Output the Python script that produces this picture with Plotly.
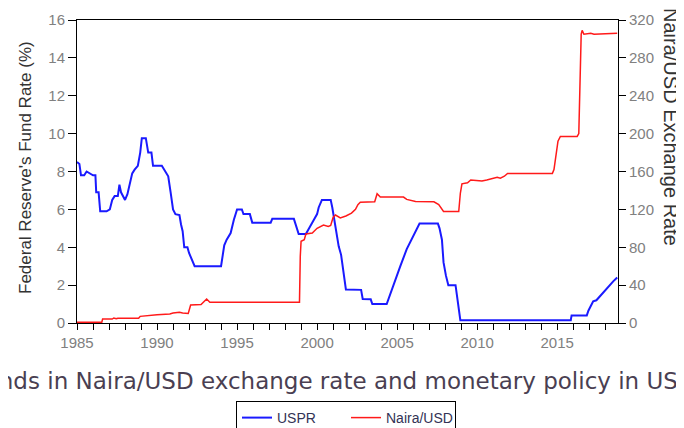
import plotly.graph_objects as go

# ---- data ----
uspr_year = [1985.0, 1985.15, 1985.25, 1985.45, 1985.6, 1985.8, 1986.0, 1986.15, 1986.2, 1986.35,
             1986.45, 1986.85, 1987.05, 1987.2, 1987.35, 1987.55, 1987.65, 1987.75, 1988.0, 1988.15,
             1988.3, 1988.45, 1988.6, 1988.8, 1988.95, 1989.05, 1989.3, 1989.45, 1989.65, 1989.75,
             1990.3, 1990.5, 1990.7, 1990.85, 1991.0, 1991.15, 1991.4, 1991.5, 1991.6, 1991.7,
             1991.9, 1992.0, 1992.2, 1992.35, 1994.0, 1994.1, 1994.2, 1994.35, 1994.6, 1994.8,
             1995.0, 1995.3, 1995.4, 1995.8, 1995.95, 1997.1, 1997.2, 1998.55, 1998.7, 1998.85,
             1999.3, 1999.45, 1999.6, 1999.8, 2000.0, 2000.1, 2000.3, 2000.85, 2000.95, 2001.1,
             2001.25, 2001.35, 2001.5, 2001.6, 2001.7, 2001.8, 2002.75, 2002.85, 2003.35, 2003.45,
             2004.35, 2004.45, 2004.8, 2005.2, 2005.6, 2006.0, 2006.4, 2007.55, 2007.65, 2007.8,
             2007.9, 2008.05, 2008.2, 2008.65, 2008.75, 2008.85, 2008.95, 2015.85, 2015.9, 2016.85,
             2016.95, 2017.1, 2017.25, 2017.45, 2017.7, 2018.1, 2018.5, 2018.75]
uspr_rate = [8.5, 8.4, 7.8, 7.8, 8.0, 7.9, 7.8, 7.8, 6.9, 6.9,
             5.9, 5.9, 6.0, 6.5, 6.7, 6.7, 7.3, 6.9, 6.5, 6.8,
             7.3, 7.9, 8.1, 8.3, 9.0, 9.76, 9.76, 9.0, 9.0, 8.3,
             8.3, 8.0, 7.75, 6.9, 6.0, 5.75, 5.7, 5.2, 4.85, 4.0,
             4.0, 3.7, 3.35, 3.0, 3.0, 3.5, 4.1, 4.4, 4.75, 5.45,
             6.0, 6.0, 5.75, 5.75, 5.3, 5.3, 5.5, 5.5, 5.1, 4.7,
             4.7, 4.95, 5.2, 5.45, 5.75, 6.1, 6.5, 6.5, 6.1, 5.3,
             4.6, 4.05, 3.6, 3.0, 2.5, 1.77, 1.75, 1.27, 1.25, 1.0,
             1.0, 1.25, 2.1, 3.0, 3.9, 4.6, 5.25, 5.25, 5.0, 4.4,
             3.2, 2.5, 2.0, 2.0, 1.4, 0.7, 0.15, 0.15, 0.4, 0.4,
             0.65, 0.9, 1.15, 1.2, 1.45, 1.8, 2.2, 2.4]

naira_year = [1985.0, 1986.55, 1986.6, 1987.2, 1987.3, 1987.45, 1987.55, 1988.85, 1988.95, 1989.85,
              1990.0, 1990.8, 1991.0, 1991.4, 1991.6, 1991.95, 1992.1, 1992.75, 1992.9, 1993.1,
              1993.3, 1998.9, 1998.95, 1999.0, 1999.2, 1999.3, 1999.7, 2000.0, 2000.4, 2000.7,
              2000.85, 2001.0, 2001.15, 2001.45, 2001.8, 2002.15, 2002.4, 2002.55, 2002.7, 2003.6,
              2003.75, 2003.95, 2005.4, 2005.6, 2006.15, 2007.3, 2007.6, 2007.8, 2007.9, 2008.85,
              2008.95, 2009.05, 2009.4, 2009.6, 2010.3, 2010.6, 2011.25, 2011.45, 2011.7, 2011.9,
              2014.7, 2014.8, 2014.9, 2015.05, 2015.2, 2016.25, 2016.35, 2016.42, 2016.5, 2016.56,
              2016.67, 2017.1, 2017.3, 2018.75]
naira_rate = [0.9, 0.9, 4.2, 4.2, 5.3, 4.4, 5.0, 5.0, 7.0, 7.8,
              8.6, 9.5, 10.6, 11.3, 10.5, 10.0, 19.0, 19.5, 22.0, 25.4,
              22.0, 22.0, 70.5, 86.3, 88.0, 94.0, 95.0, 100.0, 103.5, 102.0,
              103.0, 111.5, 114.0, 111.0, 113.0, 116.0, 120.0, 125.0, 127.5, 128.0,
              136.5, 133.0, 133.0, 130.5, 128.3, 128.0, 125.0, 120.0, 117.7, 117.7,
              137.0, 147.0, 148.0, 151.0, 150.0, 151.0, 154.0, 153.0, 155.0, 158.0,
              158.0, 162.0, 173.0, 192.0, 197.0, 197.0, 200.0, 257.0, 305.0, 309.0,
              305.0, 306.0, 305.0, 306.0]

x_ticks = [1985, 1990, 1995, 2000, 2005, 2010, 2015]
left_ticks = [0, 2, 4, 6, 8, 10, 12, 14, 16]
right_ticks = [0, 40, 80, 120, 160, 200, 240, 280, 320]

title_text = "Trends in Naira/USD exchange rate and monetary policy in USA"
left_title = "Federal Reserve's Fund Rate (%)"
right_title = "Naira/USD Exchange Rate"

# ---- figure (page adds an 8px body margin, so the figure is 8px smaller) ----
OFF = 8
W, H = 684 - OFF, 428 - OFF
ML, MR, MT, MB = 77 - OFF, 66, 20 - OFF, 105
PW, PH = W - ML - MR, H - MT - MB


def px_x(p):  # page pixel -> paper x
    return (p - OFF - ML) / PW


def px_y(p):  # page pixel -> paper y
    return (H - MB - (p - OFF)) / PH


tick_font = dict(family="Liberation Sans, Arial, sans-serif", size=15, color="#808080")
label_font = "Liberation Sans, Arial, sans-serif"

fig = go.Figure()
fig.add_trace(go.Scatter(x=uspr_year, y=uspr_rate, mode="lines", name="USPR",
                         line=dict(color="#1a1aff", width=2)))
fig.add_trace(go.Scatter(x=naira_year, y=naira_rate, mode="lines", name="Naira/USD",
                         yaxis="y2", line=dict(color="#ff1a1a", width=1.5)))

fig.update_layout(
    width=W, height=H,
    margin=dict(l=ML, r=MR, t=MT, b=MB, pad=0, autoexpand=False),
    paper_bgcolor="white", plot_bgcolor="white",
    showlegend=True,
    legend=dict(orientation="h", x=px_x(236), y=px_y(401), xanchor="left", yanchor="top",
                bordercolor="black", borderwidth=1, bgcolor="white",
                font=dict(family=label_font, size=14, color="#333355"),
                itemwidth=30, entrywidthmode="pixels", entrywidth=64),
    xaxis=dict(range=[1985, 2018.8], tickvals=x_ticks, ticktext=[str(v) for v in x_ticks],
               showgrid=False, zeroline=False, showline=True, linecolor="black", linewidth=1,
               mirror=True, ticks="outside", ticklen=6, tickcolor="black", tickfont=tick_font,
               minor=dict(dtick=1, ticks="outside", ticklen=6, tickcolor="black", showgrid=False)),
    yaxis=dict(range=[0, 16], tickvals=left_ticks, showgrid=False, zeroline=False,
               showline=True, linecolor="black", linewidth=1, ticks="outside", ticklen=8,
               tickcolor="black", tickfont=tick_font),
    yaxis2=dict(range=[0, 320], tickvals=right_ticks, overlaying="y", side="right",
                showgrid=False, zeroline=False, showline=True, linecolor="black", linewidth=1,
                ticks="outside", ticklen=7, tickcolor="black", tickfont=tick_font),
    annotations=[
        dict(text=title_text, xref="paper", yref="paper", x=px_x(-38), y=px_y(381),
             xanchor="left", yanchor="middle", showarrow=False,
             font=dict(family="DejaVu Sans, sans-serif", size=23, color="#4a3f52")),
        dict(text=left_title, xref="paper", yref="paper", x=px_x(25), y=px_y(168),
             xanchor="center", yanchor="middle", textangle=-90, showarrow=False,
             font=dict(family=label_font, size=17, color="#333333")),
        dict(text=right_title, xref="paper", yref="paper", x=px_x(671), y=px_y(127),
             xanchor="center", yanchor="middle", textangle=90, showarrow=False,
             font=dict(family=label_font, size=20, color="#333333")),
    ],
)

fig.write_html("out.html")
